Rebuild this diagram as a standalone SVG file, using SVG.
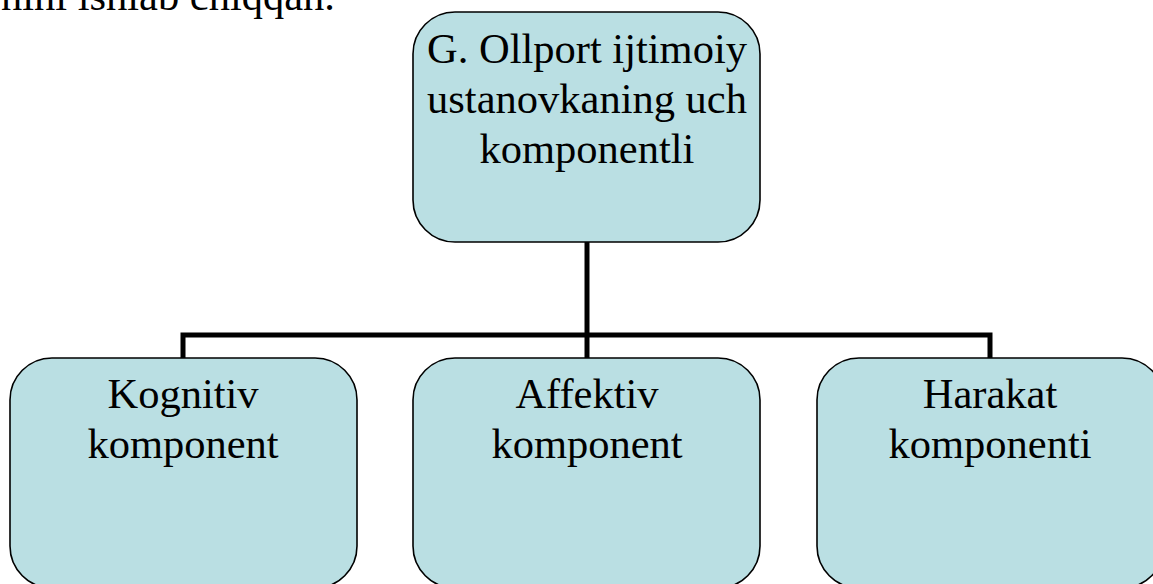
<svg xmlns="http://www.w3.org/2000/svg" width="1153" height="584" viewBox="0 0 1153 584">
<style>
.box{fill:#badfe3;stroke:#000;stroke-width:1.6}
.t{font-family:"Liberation Serif","Times New Roman",serif;font-size:42.5px;fill:#000;text-anchor:middle}
.c{fill:none;stroke:#000;stroke-width:5}
</style>
<rect width="1153" height="584" fill="#fff"/>
<text x="335" y="10" style="font-family:'Liberation Serif',serif;font-size:42.5px;text-anchor:end">nini ishlab chiqqan.</text>
<g id="connectors">
<path class="c" d="M587,242V335"/>
<path class="c" d="M183,358V335H990V358"/>
<path class="c" d="M587,335V358"/>
</g>
<g id="top">
<rect class="box" x="413" y="12" width="347" height="230" rx="42"/>
<text class="t" x="587" y="63">G. Ollport ijtimoiy</text>
<text class="t" x="587" y="113">ustanovkaning uch</text>
<text class="t" x="587" y="163">komponentli</text>
</g>
<g id="kognitiv">
<rect class="box" x="10" y="358" width="347" height="230" rx="42"/>
<text class="t" x="183" y="408">Kognitiv</text>
<text class="t" x="183" y="458">komponent</text>
</g>
<g id="affektiv">
<rect class="box" x="413" y="358" width="347" height="230" rx="42"/>
<text class="t" x="587" y="408">Affektiv</text>
<text class="t" x="587" y="458">komponent</text>
</g>
<g id="harakat">
<rect class="box" x="817" y="358" width="347" height="230" rx="42"/>
<text class="t" x="990" y="408">Harakat</text>
<text class="t" x="990" y="458">komponenti</text>
</g>
</svg>
